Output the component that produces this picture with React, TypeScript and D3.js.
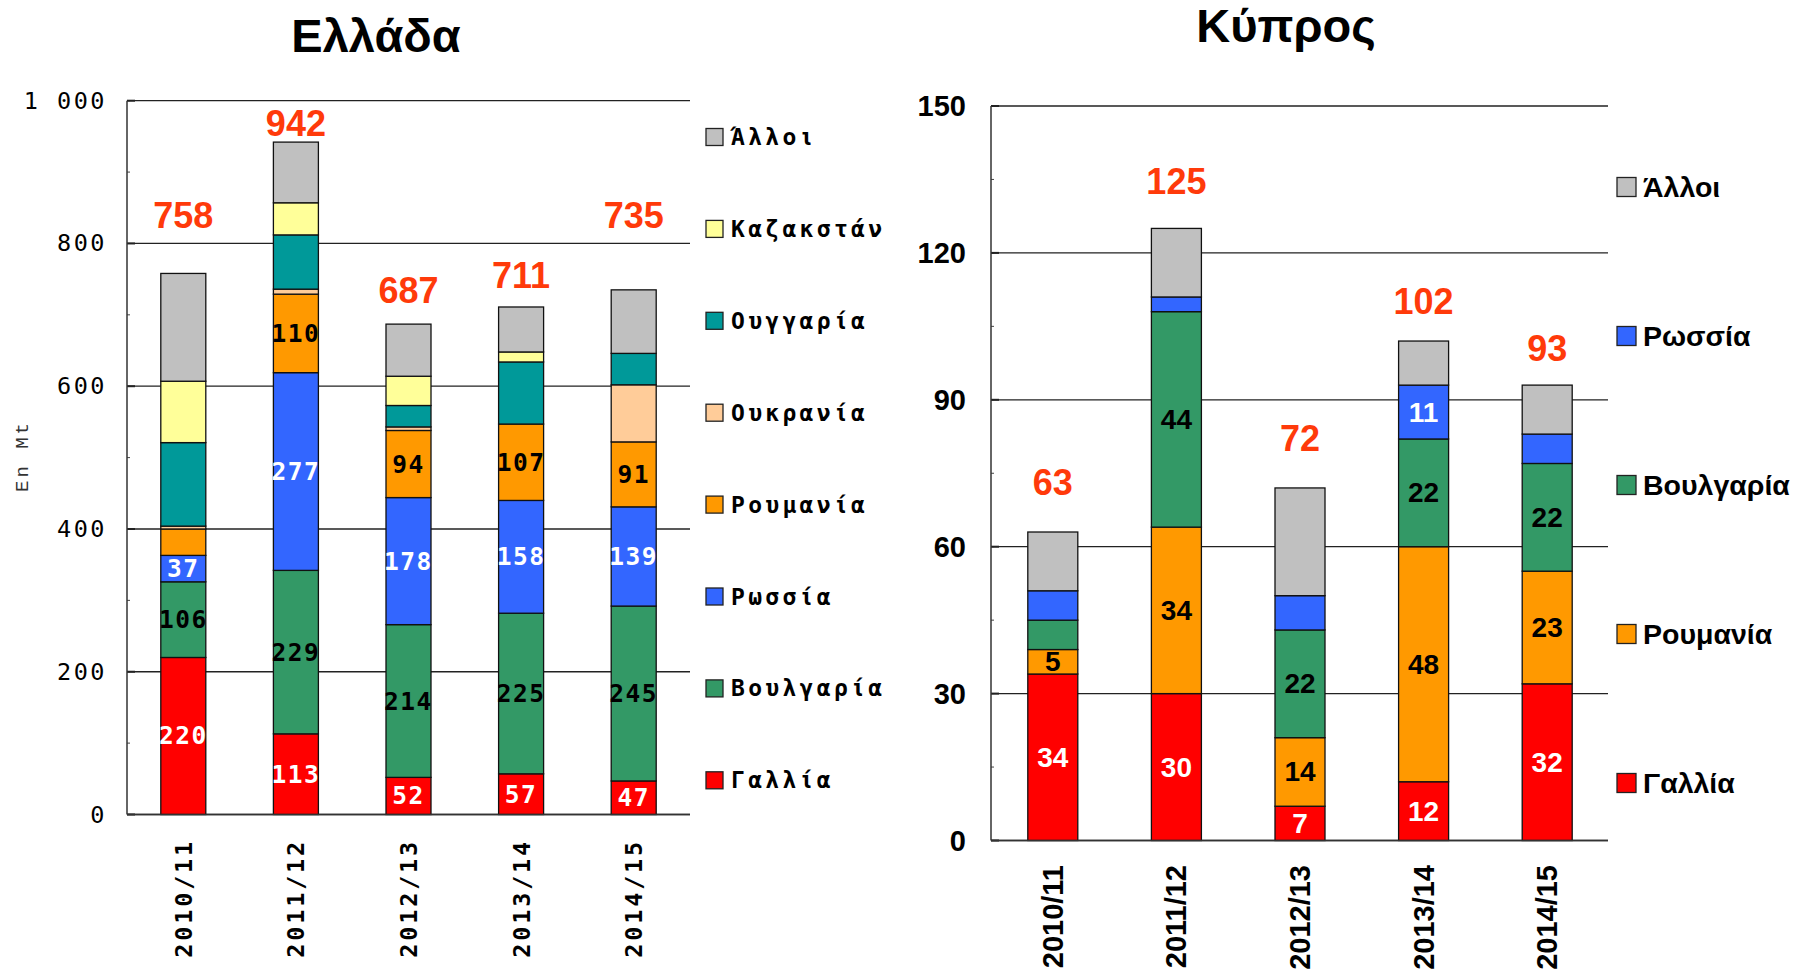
import React from "react";
import * as d3 from "d3";

// ---------- DATA ----------
const seasons = ["2010/11", "2011/12", "2012/13", "2013/14", "2014/15"];

// Ελλάδα (bottom → top)
const greeceFrance = [220, 113, 52, 57, 47];
const greeceBulgaria = [106, 229, 214, 225, 245];
const greeceRussia = [37, 277, 178, 158, 139];
const greeceRomania = [37, 110, 94, 107, 91];
const greeceUkraine = [4, 7, 5, 0, 80];
const greeceHungary = [117, 76, 30, 87, 44];
const greeceKazakhstan = [86, 45, 41, 14, 0];
const greeceOthers = [151, 85, 73, 63, 89];
const greeceTotals = [758, 942, 687, 711, 735];
const greeceTotalLabelAt = [822, 950, 716, 737, 822];
const greeceTicks = [0, 200, 400, 600, 800, 1000];

// Κύπρος (bottom → top)
const cyprusFrance = [34, 30, 7, 12, 32];
const cyprusRomania = [5, 34, 14, 48, 23];
const cyprusBulgaria = [6, 44, 22, 22, 22];
const cyprusRussia = [6, 3, 7, 11, 6];
const cyprusOthers = [12, 14, 22, 9, 10];
const cyprusTotals = [63, 125, 72, 102, 93];
const cyprusTotalLabelAt = [70.5, 132, 79.5, 107.5, 98];
const cyprusTicks = [0, 30, 60, 90, 120, 150];

// ---------- STYLE ----------
const C = {
  france: "#ff0000",
  bulgaria: "#339966",
  russia: "#3366ff",
  romania: "#ff9900",
  ukraine: "#ffcc99",
  hungary: "#009999",
  kazakh: "#ffff99",
  others: "#c0c0c0",
  total: "#ff3a0a",
};
const MONO = "'DejaVu Sans Mono', monospace";
const SANS = "'Liberation Sans', Arial, sans-serif";

type Series = { name: string; values: number[]; color: string; text: string; minLabel: number };

const greeceSeries: Series[] = [
  { name: "Γαλλία", values: greeceFrance, color: C.france, text: "#fff", minLabel: 0 },
  { name: "Βουλγαρία", values: greeceBulgaria, color: C.bulgaria, text: "#000", minLabel: 0 },
  { name: "Ρωσσία", values: greeceRussia, color: C.russia, text: "#fff", minLabel: 0 },
  { name: "Ρουμανία", values: greeceRomania, color: C.romania, text: "#000", minLabel: 40 },
  { name: "Ουκρανία", values: greeceUkraine, color: C.ukraine, text: "#000", minLabel: Infinity },
  { name: "Ουγγαρία", values: greeceHungary, color: C.hungary, text: "#000", minLabel: Infinity },
  { name: "Καζακστάν", values: greeceKazakhstan, color: C.kazakh, text: "#000", minLabel: Infinity },
  { name: "Άλλοι", values: greeceOthers, color: C.others, text: "#000", minLabel: Infinity },
];

const cyprusSeries: Series[] = [
  { name: "Γαλλία", values: cyprusFrance, color: C.france, text: "#fff", minLabel: 0 },
  { name: "Ρουμανία", values: cyprusRomania, color: C.romania, text: "#000", minLabel: 0 },
  { name: "Βουλγαρία", values: cyprusBulgaria, color: C.bulgaria, text: "#000", minLabel: 10 },
  { name: "Ρωσσία", values: cyprusRussia, color: C.russia, text: "#fff", minLabel: 10 },
  { name: "Άλλοι", values: cyprusOthers, color: C.others, text: "#000", minLabel: Infinity },
];

type PanelProps = {
  title: string;
  titleX: number;
  titleY: number;
  series: Series[];
  totals: number[];
  totalAt: number[];
  ticks: number[];
  minorStep: number;
  tickFmt: (v: number) => string;
  x0: number;
  x1: number;
  gridEnd: number;
  yBottom: number;
  yTop: number;
  barW: number;
  tickFont: React.SVGProps<SVGTextElement>;
  tickRight: number;
  segFont: React.SVGProps<SVGTextElement>;
  xFont: React.SVGProps<SVGTextElement>;
  xLabelTop: number;
  xBase: number;
  legendX: number;
  legendTop: number;
  legendStep: number;
  legendBox: number;
  legendFont: React.SVGProps<SVGTextElement>;
  legendGap: number;
};

function Panel(p: PanelProps) {
  const step = (p.x1 - p.x0) / seasons.length;
  const padIn = 1 - p.barW / step;
  const x = d3
    .scaleBand<string>()
    .domain(seasons)
    .range([p.x0, p.x1])
    .paddingInner(padIn)
    .paddingOuter(padIn / 2);
  const max = p.ticks[p.ticks.length - 1];
  const y = d3.scaleLinear().domain([0, max]).range([p.yBottom, p.yTop]);
  const keys = p.series.map((s) => s.name);
  const rows = seasons.map((s, i) => {
    const r: Record<string, any> = { season: s };
    p.series.forEach((se) => (r[se.name] = se.values[i]));
    return r;
  });
  const stacked = d3.stack<Record<string, any>>().keys(keys)(rows);
  const minor = d3.range(0, max + 0.001, p.minorStep);
  const bw = x.bandwidth();

  return (
    <g>
      <text
        x={p.titleX}
        y={p.titleY}
        textAnchor="middle"
        fontFamily={SANS}
        fontWeight="bold"
        fontSize={47}
        fill="#000"
      >
        {p.title}
      </text>

      {/* grid */}
      {p.ticks.map((t) => (
        <line
          key={"g" + t}
          x1={p.x0}
          x2={p.gridEnd}
          y1={y(t)}
          y2={y(t)}
          stroke="#222"
          strokeWidth={1.3}
        />
      ))}
      {minor.map((t) => (
        <line key={"m" + t} x1={p.x0} x2={p.x0 + 3} y1={y(t)} y2={y(t)} stroke="#444" strokeWidth={1} />
      ))}
      {p.ticks.map((t) => (
        <line key={"t" + t} x1={p.x0} x2={p.x0 + 8} y1={y(t)} y2={y(t)} stroke="#222" strokeWidth={2} />
      ))}

      {/* bars */}
      {stacked.map((layer, li) =>
        layer.map((d, i) => {
          const h = y(d[0]) - y(d[1]);
          if (h <= 0) return null;
          return (
            <rect
              key={li + "-" + i}
              x={x(seasons[i])!}
              y={y(d[1])}
              width={bw}
              height={h}
              fill={p.series[li].color}
              stroke="#111"
              strokeWidth={1.3}
            />
          );
        })
      )}

      {/* segment labels */}
      {stacked.map((layer, li) =>
        layer.map((d, i) => {
          const v = p.series[li].values[i];
          if (!(v >= p.series[li].minLabel) || v <= 0) return null;
          return (
            <text
              key={"l" + li + "-" + i}
              x={x(seasons[i])! + bw / 2}
              y={y((d[0] + d[1]) / 2)}
              textAnchor="middle"
              dominantBaseline="central"
              fill={p.series[li].text}
              {...p.segFont}
            >
              {v}
            </text>
          );
        })
      )}

      {/* totals */}
      {p.totals.map((t, i) => (
        <text
          key={"tot" + i}
          x={x(seasons[i])! + bw / 2}
          y={y(p.totalAt[i])}
          textAnchor="middle"
          fontFamily={SANS}
          fontWeight="bold"
          fontSize={36}
          fill={C.total}
        >
          {t}
        </text>
      ))}

      {/* axis */}
      <line x1={p.x0} x2={p.x0} y1={p.yTop} y2={p.yBottom} stroke="#333" strokeWidth={1.5} />
      <line x1={p.x0} x2={p.gridEnd} y1={p.yBottom} y2={p.yBottom} stroke="#333" strokeWidth={1.5} />

      {/* y tick labels */}
      {p.ticks.map((t) => (
        <text
          key={"yl" + t}
          x={p.tickRight}
          y={y(t)}
          textAnchor="end"
          dominantBaseline="central"
          fill="#000"
          {...p.tickFont}
        >
          {p.tickFmt(t)}
        </text>
      ))}

      {/* x labels */}
      {seasons.map((s) => (
        <text
          key={"xl" + s}
          transform={`translate(${x(s)! + bw / 2 + p.xBase},${p.xLabelTop}) rotate(-90)`}
          textAnchor="end"
          fill="#000"
          {...p.xFont}
        >
          {s}
        </text>
      ))}

      {/* legend */}
      {[...p.series].reverse().map((s, i) => {
        const cy = p.legendTop + i * p.legendStep;
        return (
          <g key={"lg" + s.name}>
            <rect
              x={p.legendX}
              y={cy - p.legendBox / 2}
              width={p.legendBox}
              height={p.legendBox}
              fill={s.color}
              stroke="#222"
              strokeWidth={1.3}
            />
            <text
              x={p.legendX + p.legendBox + p.legendGap}
              y={cy}
              dominantBaseline="central"
              fill="#000"
              {...p.legendFont}
            >
              {s.name}
            </text>
          </g>
        );
      })}
    </g>
  );
}

const spaceLocale = d3.formatLocale({
  decimal: ",",
  thousands: " ",
  grouping: [3],
  currency: ["", "€"],
});
const fmtSpace = spaceLocale.format(",");

export default function App() {
  return (
    <svg
      width={1811}
      height={973}
      viewBox="0 0 1811 973"
      style={{ position: "absolute", left: 0, top: 0, display: "block", background: "#fff" }}
    >
      <rect x={0} y={0} width={1811} height={973} fill="#fff" />
      <Panel
        title="Ελλάδα"
        titleX={376}
        titleY={52}
        series={greeceSeries}
        totals={greeceTotals}
        totalAt={greeceTotalLabelAt}
        ticks={greeceTicks}
        minorStep={100}
        tickFmt={(v) => fmtSpace(v)}
        x0={127}
        x1={690}
        gridEnd={690}
        yBottom={814.5}
        yTop={100.7}
        barW={45}
        tickFont={{ fontFamily: MONO, fontSize: 23.5, letterSpacing: 2.5 }}
        tickRight={107}
        segFont={{ fontFamily: MONO, fontSize: 24.5, fontWeight: "bold", letterSpacing: 1.5 }}
        xFont={{ fontFamily: MONO, fontSize: 23.5, letterSpacing: 2.8, fontWeight: 600 }}
        xLabelTop={839}
        xBase={8.5}
        legendX={706}
        legendTop={137}
        legendStep={91.9}
        legendBox={17}
        legendFont={{ fontFamily: MONO, fontSize: 23, fontWeight: "bold", letterSpacing: 3.3 }}
        legendGap={8}
      />
      <text
        transform="translate(28,456) rotate(-90)"
        textAnchor="middle"
        fontFamily="'Liberation Mono', monospace"
        fontSize={19}
        letterSpacing={3}
        fill="#333"
      >
        En Mt
      </text>
      <Panel
        title="Κύπρος"
        titleX={1286}
        titleY={42}
        series={cyprusSeries}
        totals={cyprusTotals}
        totalAt={cyprusTotalLabelAt}
        ticks={cyprusTicks}
        minorStep={15}
        tickFmt={(v) => String(v)}
        x0={991}
        x1={1609}
        gridEnd={1608}
        yBottom={840.5}
        yTop={106}
        barW={50}
        tickFont={{ fontFamily: SANS, fontSize: 29, fontWeight: "bold" }}
        tickRight={966}
        segFont={{ fontFamily: SANS, fontSize: 28, fontWeight: "bold" }}
        xFont={{ fontFamily: SANS, fontSize: 29, fontWeight: "bold" }}
        xLabelTop={865}
        xBase={10}
        legendX={1617}
        legendTop={187}
        legendStep={149}
        legendBox={19}
        legendFont={{ fontFamily: SANS, fontSize: 28.5, fontWeight: "bold" }}
        legendGap={7}
      />
    </svg>
  );
}
